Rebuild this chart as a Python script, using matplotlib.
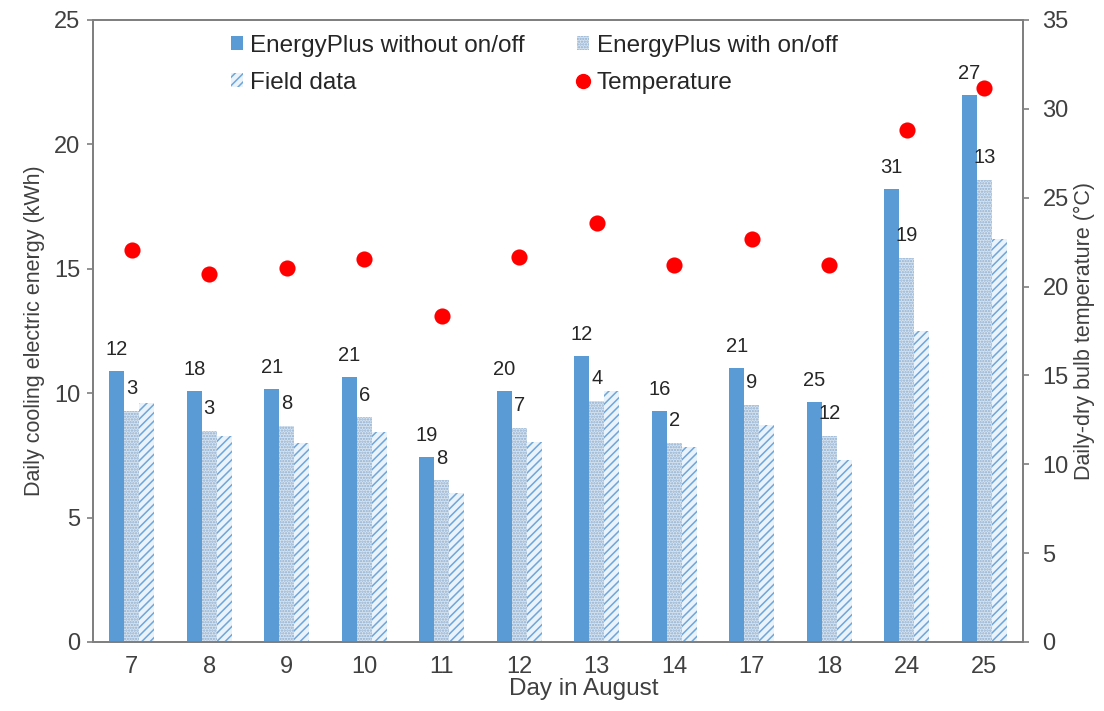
import matplotlib
matplotlib.use('Agg')
import matplotlib.pyplot as plt
from matplotlib.patches import Patch
from matplotlib.lines import Line2D
import numpy as np

plt.rcParams['font.family'] = ['Liberation Sans', 'DejaVu Sans']
plt.rcParams['hatch.linewidth'] = 1.1

# data
days = ['7', '8', '9', '10', '11', '12', '13', '14', '17', '18', '24', '25']
ep_no_onoff = [10.9, 10.1, 10.15, 10.65, 7.45, 10.1, 11.5, 9.3, 11.03, 9.66, 18.2, 22.0]
ep_onoff = [9.3, 8.5, 8.7, 9.03, 6.5, 8.6, 9.7, 8.0, 9.53, 8.28, 15.45, 18.58]
field = [9.62, 8.28, 8.0, 8.45, 6.0, 8.04, 10.1, 7.85, 8.72, 7.3, 12.52, 16.2]
temperature = [22.05, 20.7, 21.05, 21.55, 18.35, 21.65, 23.6, 21.2, 22.7, 21.2, 28.8, 31.2]
label_no_onoff = ['12', '18', '21', '21', '19', '20', '12', '16', '21', '25', '31', '27']
label_onoff = ['3', '3', '8', '6', '8', '7', '4', '2', '9', '12', '19', '13']

blue = '#5B9BD5'
text_col = '#262626'
tick_col = '#404040'

fig = plt.figure(figsize=(11.04, 7.11), dpi=100, facecolor='w')
ax = fig.add_axes([93 / 1104, 1 - 642 / 711, 930 / 1104, 622 / 711])
ax2 = ax.twinx()

x = np.arange(len(days))
w = 0.194

ax.bar(x - w, ep_no_onoff, w, color=blue, linewidth=0)
ax.bar(x, ep_onoff, w, facecolor='#D6E3F0', edgecolor='#8FAFD0',
       hatch='......', linewidth=0)
ax.bar(x + w, field, w, facecolor='#EAF2FA', edgecolor='#6FA6DA',
       hatch='////', linewidth=0)

for xi, v, t in zip(x, ep_no_onoff, label_no_onoff):
    ax.annotate(t, (xi - w, v), xytext=(0, 15.5), textcoords='offset points',
                ha='center', va='center', fontsize=14.5, color=text_col)
for xi, v, t in zip(x, ep_onoff, label_onoff):
    ax.annotate(t, (xi, v), xytext=(0, 16), textcoords='offset points',
                ha='center', va='center', fontsize=14.5, color=text_col)

ax2.scatter(x, temperature, s=135, color='#FF0000', zorder=5, linewidths=0)

ax.set_xlim(-0.5, len(days) - 0.5)
ax.set_ylim(0, 25)
ax2.set_ylim(0, 35)
ax.set_yticks(np.arange(0, 26, 5))
ax2.set_yticks(np.arange(0, 36, 5))
ax.set_xticks(x)
ax.set_xticklabels(days)

for a in (ax, ax2):
    for s in a.spines.values():
        s.set_color('#7F7F7F')
        s.set_linewidth(1.3)
ax.tick_params(axis='y', labelsize=17, labelcolor=tick_col, color='#7F7F7F',
               length=4, width=1.2, pad=5)
ax2.tick_params(axis='y', labelsize=17, labelcolor=tick_col, color='#7F7F7F',
                length=4, width=1.2, pad=10)
ax.tick_params(axis='x', length=0, labelsize=17, labelcolor=tick_col, pad=10)

ax.set_xlabel('Day in August', fontsize=17.5, color=tick_col)
ax.xaxis.set_label_coords(0.528, -0.058)
ax.set_ylabel('Daily cooling electric energy (kWh)', fontsize=15.5, color=tick_col, labelpad=7)
ax2.set_ylabel('Daily-dry bulb temperature (°C)', fontsize=15.5, color=tick_col, labelpad=4)

h_no = Patch(facecolor=blue, linewidth=0)
h_on = Patch(facecolor='#D6E3F0', edgecolor='#8FAFD0', hatch='......', linewidth=0)
h_fd = Patch(facecolor='#EAF2FA', edgecolor='#6FA6DA', hatch='////', linewidth=0)
h_t = Line2D([], [], marker='o', color='#FF0000', linestyle='none', markersize=10)
handles = [h_no, h_fd, h_on, h_t]
names = ['EnergyPlus without on/off', 'Field data', 'EnergyPlus with on/off', 'Temperature']
leg = ax2.legend(handles, names, loc='upper left', bbox_to_anchor=(231 / 1104, 1 - 35 / 711),
                 bbox_transform=fig.transFigure, ncol=2, frameon=False, fontsize=17.5,
                 handlelength=0.5, handleheight=0.5, handletextpad=0.3,
                 columnspacing=2.15, labelspacing=0.6, borderpad=0, borderaxespad=0)
for t in leg.get_texts():
    t.set_color(text_col)

fig.savefig('out.png', dpi=100, facecolor='w')
